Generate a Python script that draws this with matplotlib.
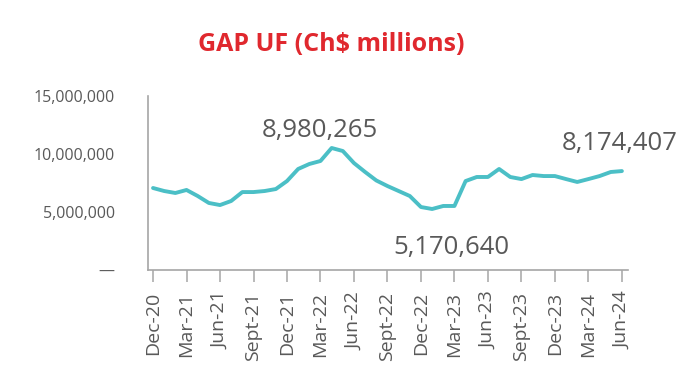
import matplotlib
matplotlib.use("Agg")
import matplotlib.pyplot as plt
from matplotlib.ticker import FuncFormatter

plt.rcParams['font.family'] = ['Open Sans', 'DejaVu Sans']

# Monthly GAP UF values, Dec-20 .. Jun-24 (as drawn on the chart scale)
months = ["Dec-20", "Jan-21", "Feb-21", "Mar-21", "Apr-21", "May-21", "Jun-21", "Jul-21", "Aug-21",
          "Sept-21", "Oct-21", "Nov-21", "Dec-21", "Jan-22", "Feb-22", "Mar-22", "Apr-22", "May-22",
          "Jun-22", "Jul-22", "Aug-22", "Sept-22", "Oct-22", "Nov-22", "Dec-22", "Jan-23", "Feb-23",
          "Mar-23", "Apr-23", "May-23", "Jun-23", "Jul-23", "Aug-23", "Sept-23", "Oct-23", "Nov-23",
          "Dec-23", "Jan-24", "Feb-24", "Mar-24", "Apr-24", "May-24", "Jun-24"]
values_m = [7.07, 6.81, 6.64, 6.90, 6.38, 5.78, 5.60, 5.95, 6.72, 6.72,
            6.81, 6.98, 7.67, 8.71, 9.14, 9.40, 10.52, 10.26, 9.22, 8.45,
            7.72, 7.24, 6.81, 6.38, 5.43, 5.26, 5.52, 5.52, 7.67, 8.02,
            8.02, 8.71, 8.02, 7.84, 8.19, 8.10, 8.10, 7.84, 7.59, 7.84,
            8.10, 8.45, 8.53]
values = [v * 1e6 for v in values_m]

tick_labels = ["Dec-20", "Mar-21", "Jun-21", "Sept-21", "Dec-21", "Mar-22", "Jun-22", "Sept-22",
               "Dec-22", "Mar-23", "Jun-23", "Sept-23", "Dec-23", "Mar-24", "Jun-24"]
y_ticks = [0, 5_000_000, 10_000_000, 15_000_000]

annot_texts = ["8,980,265", "5,170,640", "8,174,407"]
annot_x = [14.95, 26.7, 41.8]
annot_y = [12.0e6, 1.9e6, 10.95e6]

title = "GAP UF (Ch$ millions)"

fig = plt.figure(figsize=(6.9, 3.84), dpi=100)
ax = fig.add_axes([0.2145, 0.2969, 0.6957, 0.453])

x = list(range(len(values)))
ax.plot(x, values, color='#4bbfc6', lw=2.8, solid_joinstyle='round', solid_capstyle='round')

ax.set_xlim(-0.45, 42.55)
ax.set_ylim(0, 15_000_000)

tick_pos = [months.index(t) for t in tick_labels]
ax.set_xticks(tick_pos)
ax.set_xticklabels(tick_labels, rotation=90)
ax.set_yticks(y_ticks)
ax.yaxis.set_major_formatter(FuncFormatter(lambda v, p: "—" if v == 0 else f"{int(v):,}"))

ax.tick_params(axis='x', direction='out', length=8.6, width=1.1, color='#a6a6a6', pad=7,
               labelsize=14, labelcolor='#595959')
ax.tick_params(axis='y', length=0, pad=24, labelsize=11.5, labelcolor='#595959')

for s in ['top', 'right']:
    ax.spines[s].set_visible(False)
for s in ['left', 'bottom']:
    ax.spines[s].set_color('#a6a6a6')
    ax.spines[s].set_linewidth(1.2)

for t, xx, yy in zip(annot_texts, annot_x, annot_y):
    ax.text(xx, yy, t, fontsize=18.5, color='#595959', ha='center', va='center', clip_on=False)

fig.text(0.48, 0.885, title, fontsize=18, fontweight='bold', color='#e0282e',
         ha='center', va='center')

fig.savefig("out.png", dpi=100, facecolor='white')
